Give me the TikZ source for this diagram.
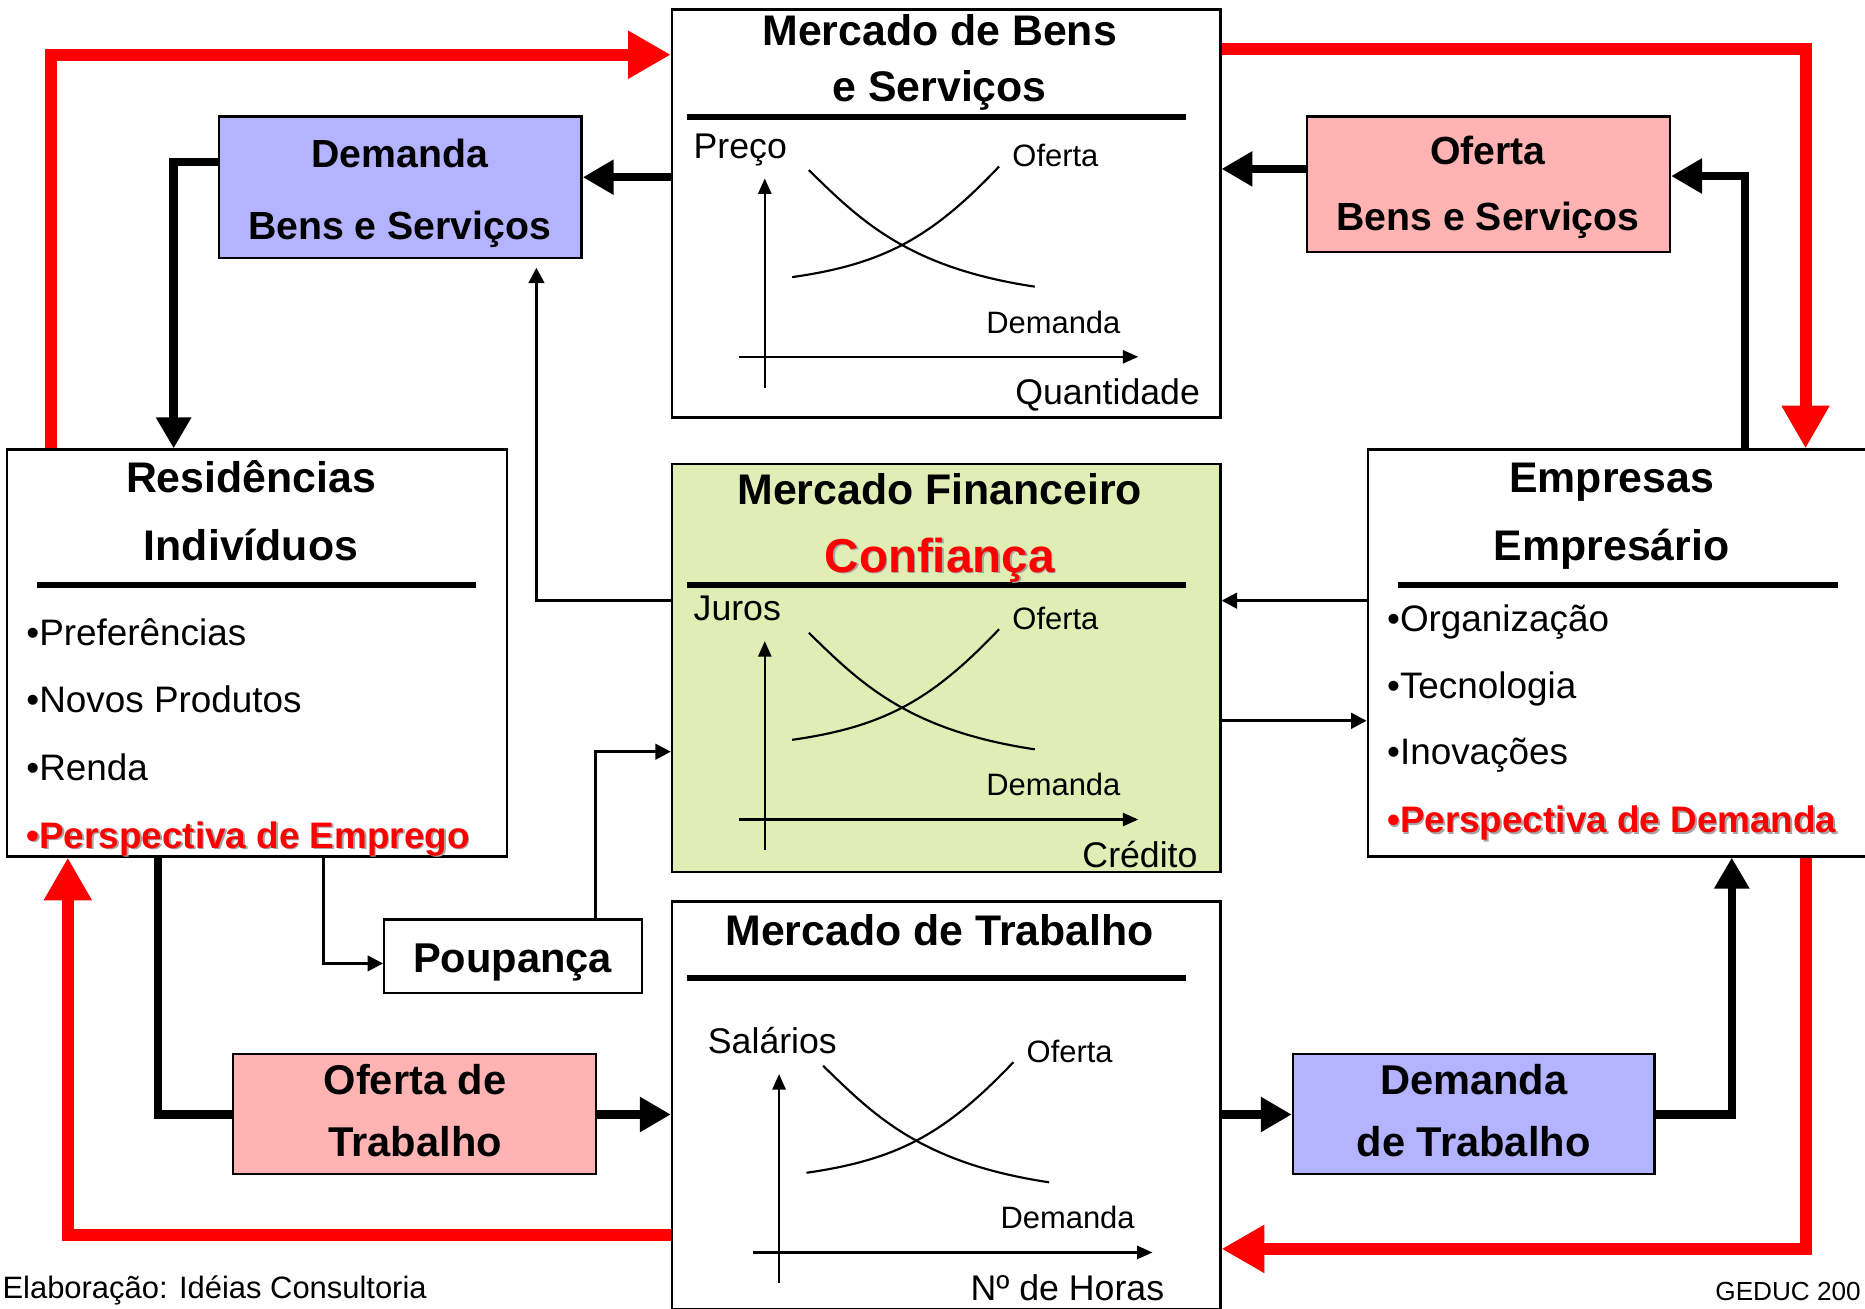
\documentclass[tikz,border=0pt]{standalone}
\usepackage{fontspec}
\setmainfont{Liberation Sans}
\usetikzlibrary{calc,arrows.meta}

\definecolor{lilas}{RGB}{179,179,255}
\definecolor{rosa}{RGB}{255,179,179}
\definecolor{verde}{RGB}{224,238,182}
\definecolor{vermelho}{RGB}{255,0,0}

\tikzset{
  caixa/.style={draw, line width=2pt, inner sep=0pt},
  regua/.style={line width=5pt},
  fluxo/.style={draw=vermelho, line width=10pt, -{Triangle[length=36pt,width=38pt]}},
  grosso/.style={line width=7pt, -{Triangle[length=26pt,width=28pt]}},
  fino/.style={line width=2.5pt, -{Triangle[length=13pt,width=13pt]}},
  eixo/.style={line width=2pt, -{Triangle[length=13pt,width=11pt]}},
  curva/.style={line width=1.8pt},
  titulo/.style={inner sep=0pt, anchor=base, font=\fontsize{36}{40}\selectfont\bfseries},
  caixatxt/.style={inner sep=0pt, anchor=base, font=\fontsize{33}{40}\selectfont\bfseries},
  item/.style={inner sep=0pt, anchor=base west, font=\fontsize{31}{36}\selectfont},
  rotulo/.style={inner sep=0pt, font=\fontsize{30}{36}\selectfont},
  pequeno/.style={inner sep=0pt, anchor=base west, font=\fontsize{26}{30}\selectfont},
}

% grafico de oferta e procura
\newcommand{\grafico}[5]{%
  \begin{scope}[shift={#1}]
    \draw[eixo] (-22,0) -- (314,0);
    \draw[eixo] (0,26) -- (0,-150);
    \draw[curva] (23,-67) .. controls (100,-78) and (140,-100) .. (197,-160);
    \draw[curva] (37,-157) .. controls (80,-115) and (120,-75) .. (227,-59);
    \node[rotulo, anchor=base west] (#2y) at (-60,-167) {#3};
    \node[pequeno] (#2o) at (208,-160) {Oferta};
    \node[pequeno] (#2d) at (186,-20) {Demanda};
    \node[rotulo, anchor=base east] (#2x) at (#5,40) {#4};
  \end{scope}}

% texto vermelho com sombra
\newcommand{\sombra}[4]{%
  \node[#2, text=black!35] (#1s) at ($#3+(1.5,1.5)$) {#4};
  \node[#2, text=vermelho] (#1) at #3 {#4};}

\begin{document}
\begin{tikzpicture}[x=1pt, y=-1pt, line join=miter]
  \useasboundingbox (0,0) rectangle (1568,1100);
  \clip (0,0) rectangle (1568,1100);

  % caixas
  \node[caixa, minimum width=461, minimum height=343] (mbens) at (795.5,179.5) {};
  \node[caixa, fill=verde, minimum width=461, minimum height=343] (mfin) at (795.5,561.5) {};
  \node[caixa, minimum width=461, minimum height=343] (mtrab) at (795.5,929.5) {};
  \node[caixa, minimum width=420, minimum height=342] (resid) at (216,549) {};
  \node[caixa, minimum width=420, minimum height=342] (empr) at (1360,549) {};
  \node[caixa, fill=lilas, minimum width=305, minimum height=119] (dbens) at (336.5,157.5) {};
  \node[caixa, fill=rosa, minimum width=305, minimum height=114] (obens) at (1251.5,155) {};
  \node[caixa, fill=rosa, minimum width=305, minimum height=101] (otrab) at (348.5,936.5) {};
  \node[caixa, fill=lilas, minimum width=304, minimum height=101] (dtrab) at (1239,936.5) {};
  \node[caixa, minimum width=217, minimum height=62] (poup) at (431.5,804) {};

  % reguas
  \draw[regua] (578,98) -- (997,98);
  \draw[regua] (578,492) -- (997,492);
  \draw[regua] (578,822) -- (997,822);
  \draw[regua] (31,492) -- (400,492);
  \draw[regua] (1175,492) -- (1545,492);

  % pontos de passagem
  \coordinate (r1) at (43,46);
  \coordinate (r2) at (1518,41);
  \coordinate (r3) at (1518,1050);
  \coordinate (r4) at (57,1038);
  \coordinate (b1) at (0,149);
  \coordinate (b2) at (146,136);
  \coordinate (b3) at (1467,148);
  \coordinate (b4) at (0,142);
  \coordinate (b5) at (133,937);
  \coordinate (b7) at (1456,937);
  \coordinate (t1) at (451,505);
  \coordinate (t2) at (0,505);
  \coordinate (t3) at (0,606);
  \coordinate (t4) at (272,810);
  \coordinate (t5) at (501,632);

  % fluxo monetario (vermelho)
  \draw[fluxo] (resid.north -| r1) |- (mbens.west |- r1);
  \draw[fluxo] (mbens.east |- r2) -| (empr.north -| r2);
  \draw[fluxo] (empr.south -| r3) |- (mtrab.east |- r3);
  \draw[fluxo] (mtrab.west |- r4) -| (resid.south -| r4);

  % fluxo real
  \draw[grosso] (mbens.west |- b1) -- (dbens.east |- b1);
  \draw[grosso] (dbens.west |- b2) -| (resid.north -| b2);
  \draw[grosso] (empr.north -| b3) |- (obens.east |- b3);
  \draw[grosso] (obens.west |- b4) -- (mbens.east |- b4);
  \draw[grosso, -] (resid.south -| b5) |- (otrab.west |- b5);
  \draw[grosso] (otrab.east |- b5) -- (mtrab.west |- b5);
  \draw[grosso] (mtrab.east |- b5) -- (dtrab.west |- b5);
  \draw[grosso] (dtrab.east |- b7) -| (empr.south -| b7);

  % credito e poupanca
  \draw[fino, shorten >=7pt] (mfin.west |- t1) -| (dbens.south -| t1);
  \draw[fino] (empr.west |- t2) -- (mfin.east |- t2);
  \draw[fino] (mfin.east |- t3) -- (empr.west |- t3);
  \draw[fino] (resid.south -| t4) |- (poup.west |- t4);
  \draw[fino] (poup.north -| t5) |- (mfin.west |- t5);

  % titulos
  \node[titulo] (tbens1) at (790,38) {Mercado de Bens};
  \node[titulo] (tbens2) at (790,85) {e Serviços};
  \node[titulo] (tfin) at (790,424) {Mercado Financeiro};
  \sombra{tconf}{titulo, font=\fontsize{40}{44}\selectfont\bfseries}{(790,481)}{Confiança}
  \node[titulo] (ttrab) at (790,795) {Mercado de Trabalho};
  \node[titulo] (tres1) at (211,414) {Residências};
  \node[titulo] (tres2) at (211,471) {Indivíduos};
  \node[titulo] (temp1) at (1355,414) {Empresas};
  \node[titulo] (temp2) at (1355,471) {Empresário};
  \node[titulo, font=\fontsize{35}{40}\selectfont\bfseries] (tpoup) at (431,818) {Poupança};

  % textos das caixas coloridas
  \node[caixatxt] (dbens1) at (336,141) {Demanda};
  \node[caixatxt] (dbens2) at (336,201) {Bens e Serviços};
  \node[caixatxt] (obens1) at (1251,138) {Oferta};
  \node[caixatxt] (obens2) at (1251,194) {Bens e Serviços};
  \node[caixatxt, font=\fontsize{35}{40}\selectfont\bfseries] (otrab1) at (349,920) {Oferta de};
  \node[caixatxt, font=\fontsize{35}{40}\selectfont\bfseries] (otrab2) at (349,972) {Trabalho};
  \node[caixatxt, font=\fontsize{35}{40}\selectfont\bfseries] (dtrab1) at (1239,920) {Demanda};
  \node[caixatxt, font=\fontsize{35}{40}\selectfont\bfseries] (dtrab2) at (1239,972) {de Trabalho};

  % listas
  \node[item] (res1) at (22,543) {•Preferências};
  \node[item] (res2) at (22,599) {•Novos Produtos};
  \node[item] (res3) at (22,656) {•Renda};
  \sombra{res4}{item, font=\fontsize{31}{36}\selectfont\bfseries}{(22,713)}{•Perspectiva de Emprego}
  \node[item] (emp1) at (1166,531) {•Organização};
  \node[item] (emp2) at (1166,587) {•Tecnologia};
  \node[item] (emp3) at (1166,643) {•Inovações};
  \sombra{emp4}{item, font=\fontsize{31}{36}\selectfont\bfseries}{(1166,700)}{•Perspectiva de Demanda}

  % graficos
  \grafico{(643,300)}{ga}{Preço}{Quantidade}{366}
  \grafico{(643,689)}{gb}{Juros}{Crédito}{364}
  \grafico{(655,1053)}{gc}{Salários}{Nº de Horas}{324}

  % rodape
  \node[pequeno] (elab) at (2,1092) {Elaboração: Idéias Consultoria};
  \node[pequeno, font=\fontsize{22}{26}\selectfont] (geduc) at (1442,1093) {GEDUC 200};
\end{tikzpicture}
\end{document}
